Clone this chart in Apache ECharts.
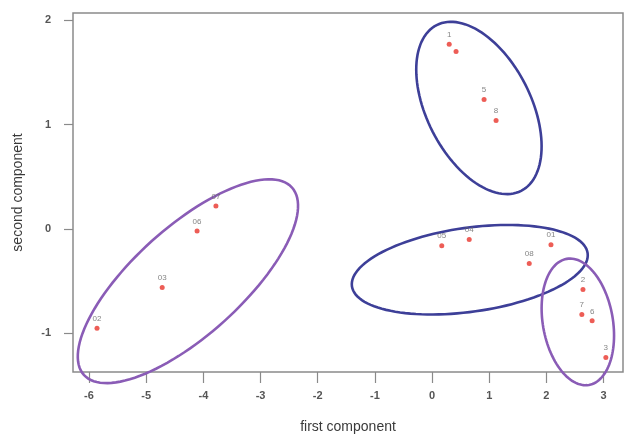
<!DOCTYPE html>
<html>
<head>
<meta charset="utf-8">
<script src="https://cdn.jsdelivr.net/npm/echarts@6/dist/echarts.min.js"></script>
<style>
html,body{margin:0;padding:0;background:#fff;}
#chart{width:627px;height:439px;}
</style>
</head>
<body>
<div id="chart"></div>
<script>
// ---- data ----
var pointLabels = ["1", "", "5", "8", "05", "04", "08", "01", "2", "7", "6", "3", "07", "06", "03", "02"];
var firstComponent  = [0.30, 0.42, 0.91, 1.12, 0.17, 0.65, 1.70, 2.08, 2.64, 2.62, 2.80, 3.04, -3.78, -4.11, -4.72, -5.86];
var secondComponent = [1.77, 1.70, 1.24, 1.04, -0.16, -0.10, -0.33, -0.15, -0.58, -0.82, -0.88, -1.23, 0.22, -0.02, -0.56, -0.95];
var xTicks = [-6, -5, -4, -3, -2, -1, 0, 1, 2, 3];
var yTicks = [-1, 0, 1, 2];
// cluster ellipse centres (data units)
var clusterCenterX = [0.82, 0.66, -4.27, 2.55];
var clusterCenterY = [1.16, -0.39, -0.50, -0.89];

// ---- drawing configuration (geometry / styles of ellipses, in pixels) ----
var ellipseShape = [
  {a: 93, b: 52, angle: 63, color: '#3d3f98'},
  {a: 119, b: 42, angle: -8, color: '#3d3f98'},
  {a: 140, b: 54, angle: -42, color: '#8a5cb6'},
  {a: 64, b: 35, angle: 80, color: '#8a5cb6'}
];

var scatterData = firstComponent.map(function (x, i) {
  return {value: [x, secondComponent[i]], name: pointLabels[i]};
});
var ellipseData = clusterCenterX.map(function (x, i) { return [x, clusterCenterY[i], i]; });

var chart = echarts.init(document.getElementById('chart'), null, {renderer: 'canvas'});
var font = 'Liberation Sans, Arial, sans-serif';
chart.setOption({
  backgroundColor: '#ffffff',
  animation: false,
  grid: {left: 73, right: 4, top: 13, bottom: 67, show: true, borderColor: '#8a8a8a', borderWidth: 1.5, backgroundColor: 'transparent'},
  xAxis: {
    type: 'value', min: -6.28, max: 3.34,
    name: 'first component', nameLocation: 'middle', nameGap: 48,
    nameTextStyle: {fontFamily: font, fontSize: 14, color: '#3a3a3a'},
    axisLine: {show: false, onZero: false},
    splitLine: {show: false},
    axisTick: {show: true, length: 11, customValues: xTicks, lineStyle: {color: '#8a8a8a', width: 1.2}},
    axisLabel: {customValues: xTicks, margin: 18, fontFamily: font, fontSize: 11, fontWeight: 'bold', color: '#555'}
  },
  yAxis: {
    type: 'value', min: -1.37, max: 2.07,
    name: 'second component', nameLocation: 'middle', nameGap: 48,
    nameTextStyle: {fontFamily: font, fontSize: 14, color: '#3a3a3a'},
    axisLine: {show: false, onZero: false},
    splitLine: {show: false},
    axisTick: {show: true, length: 9, customValues: yTicks, lineStyle: {color: '#8a8a8a', width: 1.2}},
    axisLabel: {customValues: yTicks, margin: 22, fontFamily: font, fontSize: 11, fontWeight: 'bold', color: '#555'}
  },
  series: [
    {
      type: 'custom',
      clip: false,
      silent: true,
      data: ellipseData,
      renderItem: function (params, api) {
        var c = api.coord([api.value(0), api.value(1)]);
        var s = ellipseShape[api.value(2)];
        var th = s.angle * Math.PI / 180;
        var pts = [];
        for (var k = 0; k < 120; k++) {
          var t = k / 120 * Math.PI * 2;
          var ex = s.a * Math.cos(t), ey = s.b * Math.sin(t);
          pts.push([c[0] + ex * Math.cos(th) - ey * Math.sin(th), c[1] + ex * Math.sin(th) + ey * Math.cos(th)]);
        }
        return {type: 'polygon', shape: {points: pts}, style: {fill: 'none', stroke: s.color, lineWidth: 2.6}};
      }
    },
    {
      type: 'scatter',
      clip: false,
      data: scatterData,
      symbol: 'circle',
      symbolSize: 5,
      itemStyle: {color: '#e8352c'},
      label: {show: true, position: 'top', distance: 3, formatter: '{b}', fontFamily: font, fontSize: 8, color: '#666'}
    }
  ]
});
</script>
</body>
</html>
